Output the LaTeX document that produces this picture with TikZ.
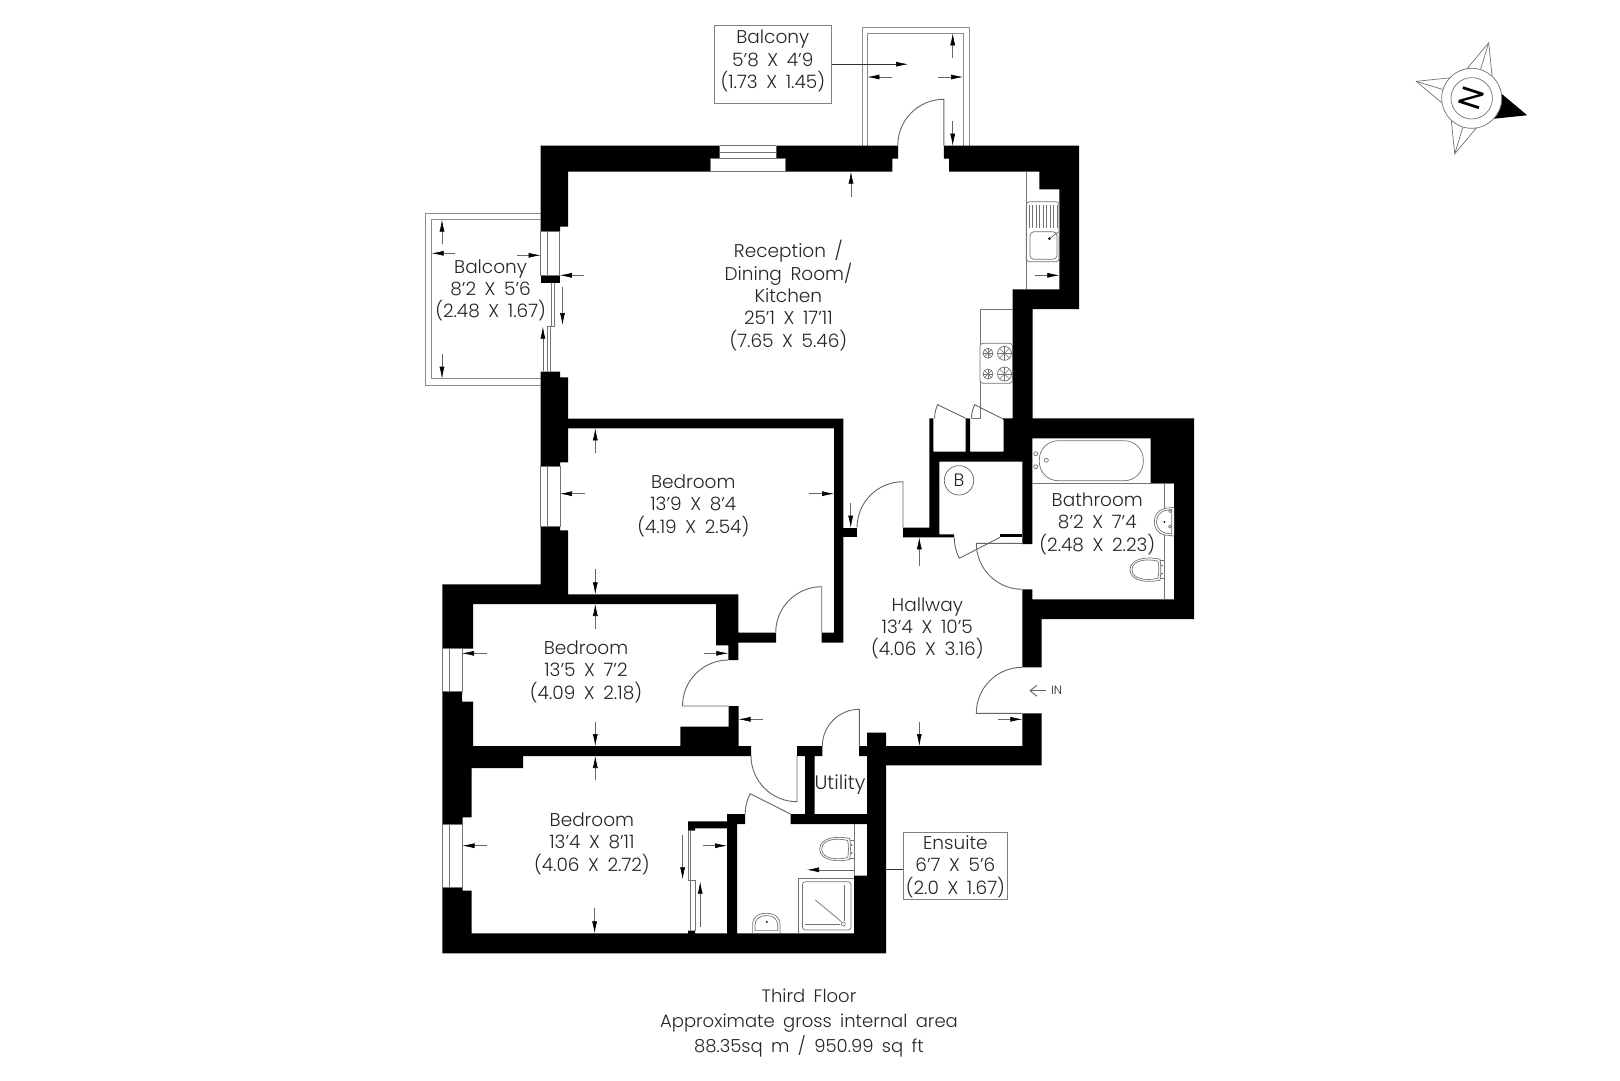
\documentclass[tikz,border=0pt]{standalone}
\usepackage{fontspec}
\setmainfont{Poppins}[UprightFont=* Light,WordSpace=1.7]
\newfontfamily\compassfont{Poppins}
\usetikzlibrary{arrows.meta}
\tikzset{
  wall/.style={fill=black,draw=none},
  fixture/.style={draw=black!55,line width=0.7pt},
  doorline/.style={draw=black!60,line width=0.9pt},
  balconyline/.style={draw=black!45,line width=1pt},
  dimline/.style={draw=black!60,line width=0.6pt,-{Latex[length=12pt,width=5pt,black]}},
  leaderline/.style={draw=black!80,line width=0.7pt},
  roomlabel/.style={align=center,text=black!85,inner sep=0pt,font=\fontsize{18.5}{22.4}\selectfont},
  labelbox/.style={draw=black!50,line width=0.8pt,fill=white},
  toilet/.pic={
    \draw[fixture] (15,-10.5) .. controls (5,-13) and (-15,-12.5) .. (-15,0) .. controls (-15,12.5) and (5,13) .. (15,10.5) .. controls (16,4) and (16,-4) .. (15,-10.5);
    \draw[fixture] (13,-8.5) .. controls (4,-11) and (-13,-10.5) .. (-13,0) .. controls (-13,10.5) and (4,11) .. (13,8.5) .. controls (14,4) and (14,-4) .. (13,-8.5);
    \draw[fixture] (15,-9) -- (19.3,-9);
    \draw[fixture] (15,9) -- (19.3,9);
    \fill[black!60] (17,-4) circle[radius=1];
    \fill[black!60] (17,4) circle[radius=1];
  }
}
\begin{document}
\begin{tikzpicture}[x=1pt,y=-1pt]
\useasboundingbox (0,0) rectangle (1620,1080);
\fill[white] (0,0) rectangle (1620,1080);

% balconies
\draw[balconyline] (862,145.7) -- (862,27) -- (969,27) -- (969,145.7);
\draw[balconyline] (867.4,145.7) -- (867.4,33.3) -- (963,33.3) -- (963,145.7);
\draw[balconyline] (540.6,213.3) -- (425,213.3) -- (425,385.3) -- (540.6,385.3);
\draw[balconyline] (540.6,219.7) -- (431.7,219.7) -- (431.7,378.7) -- (540.6,378.7);

% ensuite leader runs behind the wall
\coordinate (ensuiteleader) at (880,869.8);
\draw[leaderline] (903.4,869.8) -- (ensuiteleader);

% walls
\fill[wall] (540.6,145.7) -- (719.6,145.7) -- (719.6,158.7) -- (710.7,158.7) -- (710.7,171.7) -- (568,171.7) -- (568,226.7) -- (560,226.7) -- (560,231.7) -- (540.6,231.7) -- cycle;
\fill[wall] (776.3,145.7) -- (898.2,145.7) -- (898.2,158.7) -- (892.4,158.7) -- (892.4,171.7) -- (785.3,171.7) -- (785.3,158.7) -- (776.3,158.7) -- cycle;
\fill[wall] (943.8,145.7) -- (1079,145.7) -- (1079,309) -- (1032.6,309) -- (1032.6,418.3) -- (1194,418.3) -- (1194,619) -- (1041.7,619) -- (1041.7,667.3) -- (1022.3,667.3) -- (1022.3,589.3) -- (1032.3,589.3) -- (1032.3,599.3) -- (1174,599.3) -- (1174,483.3) -- (1150.7,483.3) -- (1150.7,438.3) -- (1032.3,438.3) -- (1032.3,544) -- (1022.3,544) -- (1022.3,461.7) -- (939.3,461.7) -- (939.3,534.3) -- (954,534.3) -- (954,537.3) -- (903,537.3) -- (903,527.7) -- (929.3,527.7) -- (929.3,418.3) -- (933.3,418.3) -- (933.3,451.7) -- (965.7,451.7) -- (965.7,418.3) -- (970,418.3) -- (970,451.7) -- (1003.7,451.7) -- (1003.7,420) -- (1001.7,418.3) -- (1012.5,418.3) -- (1012.5,289.3) -- (1059.4,289.3) -- (1059.4,189.3) -- (1039.3,189.3) -- (1039.3,171.7) -- (949,171.7) -- (949,158.7) -- (943.8,158.7) -- cycle;
\fill[wall] (1000,534.3) rectangle (1022.3,537.3);
\fill[wall] (540.6,371.7) -- (560,371.7) -- (560,377.3) -- (568,377.3) -- (568,418.7) -- (843.3,418.7) -- (843.3,642.7) -- (821.7,642.7) -- (821.7,632.7) -- (834,632.7) -- (834,428.3) -- (568,428.3) -- (568,462.3) -- (560,462.3) -- (560,466) -- (540.6,466) -- cycle;
\fill[wall] (843.3,527.7) rectangle (857.3,537.3);
\fill[wall] (540.6,526.7) -- (560,526.7) -- (560,530.3) -- (568,530.3) -- (568,594.3) -- (738.3,594.3) -- (738.3,632.7) -- (776,632.7) -- (776,642.7) -- (738.3,642.7) -- (738.3,660) -- (728.3,660) -- (728.3,645.3) -- (716,645.3) -- (716,604) -- (473,604) -- (473,648.7) -- (442.3,648.7) -- (442.3,584.3) -- (540.6,584.3) -- cycle;
\fill[wall] (442.3,691.7) -- (462,691.7) -- (462,701.7) -- (473,701.7) -- (473,746) -- (680.3,746) -- (680.3,726.7) -- (728.5,726.7) -- (728.5,706) -- (738.5,706) -- (738.5,746) -- (751,746) -- (751,756) -- (523,756) -- (523,768) -- (471.7,768) -- (471.7,817.3) -- (462.5,817.3) -- (462.5,824) -- (442.3,824) -- cycle;
\fill[wall] (442.3,887.3) -- (462.5,887.3) -- (462.5,890.7) -- (471.7,890.7) -- (471.7,933.3) -- (688,933.3) -- (688,930.7) -- (695,930.7) -- (695,933.3) -- (727,933.3) -- (727,828.3) -- (695,828.3) -- (695,830.5) -- (688,830.5) -- (688,821.3) -- (727,821.3) -- (727,814) -- (745,814) -- (745,824) -- (737,824) -- (737,933.3) -- (854,933.3) -- (854,875.7) -- (867,875.7) -- (867,824) -- (790.5,824) -- (790.5,814) -- (805,814) -- (805,756) -- (797,756) -- (797,746) -- (822.3,746) -- (822.3,756) -- (814.6,756) -- (814.6,814) -- (867,814) -- (867,756) -- (859,756) -- (859,746) -- (867,746) -- (867,732.7) -- (886.2,732.7) -- (886.2,746) -- (1022.3,746) -- (1022.3,713.3) -- (1041.7,713.3) -- (1041.7,765.3) -- (886.2,765.3) -- (886.2,953.3) -- (442.3,953.3) -- cycle;
\fill[wall] (540.6,275.3) rectangle (559.8,282.7);

% windows
\draw[fixture] (719.6,145.7) -- (776.3,145.7);
\draw[fixture] (719.6,152) -- (776.3,152);
\draw[fixture] (710.7,158.7) rectangle (785.3,171.7);
\draw[fixture] (540.6,231.7) rectangle (559.8,275.3);
\draw[fixture] (547,231.7) -- (547,275.3);
\draw[fixture] (551,282.7) -- (551,326.7) -- (550.4,326.7) -- (550.4,371.7);
\draw[fixture] (554,282.7) -- (554,326.7) -- (547.3,326.7) -- (547.3,371.7);
\draw[fixture] (540.6,466) rectangle (560,526.7);
\draw[fixture] (547.3,466) -- (547.3,526.7);
\draw[fixture] (442.3,648.7) rectangle (462,691.7);
\draw[fixture] (449,648.7) -- (449,691.7);
\draw[fixture] (442.3,824) rectangle (462.5,887.3);
\draw[fixture] (449,824) -- (449,887.3);
\draw[fixture] (688.5,830.5) -- (688.5,880) -- (690.5,880) -- (690.5,930.7);
\draw[fixture] (690.5,830.5) -- (690.5,880) -- (695,880) -- (695,930.7);

% doors
\draw[doorline] (943.8,145.7) -- (943.8,99.3) arc[start angle=270,end angle=180,radius=46];
\draw[doorline] (903,527.7) -- (903,481.7) arc[start angle=270,end angle=180,radius=46];
\draw[doorline] (821.7,632.7) -- (821.7,586.7) arc[start angle=270,end angle=180,radius=46];
\draw[doorline] (728.5,660) arc[start angle=270,end angle=180,radius=46] -- (728.5,706);
\draw[doorline] (1022.3,543.3) -- (976.3,543.3) arc[start angle=180,end angle=90,radius=46];
\draw[doorline] (1022.3,713.3) -- (976.3,713.3) arc[start angle=180,end angle=270,radius=46];
\draw[doorline] (859.3,746.7) -- (859.3,709.3) arc[start angle=270,end angle=180,radius=37];
\draw[doorline] (797,756) -- (797,801.7) arc[start angle=90,end angle=180,radius=46];
\draw[doorline] (790.5,814) -- (750,793.7) arc[start angle=206.6,end angle=180,radius=45.3];
\draw[doorline] (1000,537.3) -- (959.3,558.3) arc[start angle=152.7,end angle=180,radius=45.8];
\draw[doorline] (965.7,418.3) -- (937.7,404.7) arc[start angle=205.9,end angle=180,radius=31.1];
\draw[doorline] (1001.7,418.3) -- (974.7,404.7) arc[start angle=206.7,end angle=180,radius=30.2];

% kitchen
\draw[fixture] (1026.3,171.7) -- (1026.3,289.3);
\draw[fixture,rounded corners=3pt] (1026.3,201.7) rectangle (1059,261.7);
\draw[fixture,rounded corners=4pt] (1030,231.7) rectangle (1057,259.3);
\foreach \sx in {1029,1032.5,...,1057} {
  \draw[fixture,line width=0.5pt] (\sx,205) -- (\sx,228);
}
\fill (1049.5,238.7) circle[radius=1.5];
\draw[fixture] (1049.5,238.7) -- (1058.5,231.7);
\draw[fixture] (1012.5,309) -- (980,309) -- (980,418.3) -- (972,418.3);
\draw[fixture,fill=white,rounded corners=3pt] (980,343.3) rectangle (1012.5,383.3);
\foreach \bx/\by/\br in {988/353.3/5,1004.5/353.3/7,988/374/5,1004.5/374/7} {
  \draw[fixture] (\bx,\by) circle[radius=\br];
  \foreach \ba in {0,45,90,135} {
    \draw[fixture,line width=0.5pt] (\bx,\by) ++(\ba:\br) -- ++(\ba+180:2*\br);
  }
}

% bathroom
\draw[fixture] (1032.3,483.3) -- (1150.7,483.3) -- (1174,483.3);
\draw[fixture] (1164.3,483.3) -- (1164.3,599.3);
\draw[fixture,rounded corners=19pt] (1039.3,440.7) rectangle (1143.3,480.7);
\draw[fixture] (1035.7,453.7) circle[radius=2];
\draw[fixture] (1035.7,466.7) circle[radius=2];
\draw[fixture] (1046.3,460.3) circle[radius=2];
\draw[fixture,fill=white] (1174,507.3) -- (1165,508.3) .. controls (1158,510) and (1154.3,515) .. (1154.3,521.7) .. controls (1154.3,528) and (1158,534) .. (1165,535) -- (1174,536);
\draw[fixture] (1171.7,509.5) -- (1165,510.5) .. controls (1160,512) and (1156.5,516) .. (1156.5,521.7) .. controls (1156.5,527) and (1160,531.5) .. (1165,533) -- (1171.7,534) -- cycle;
\fill (1164.3,522) circle[radius=1];
\draw[fixture] (1170,511) circle[radius=1.5];
\draw[fixture] (1170,526.7) circle[radius=1.5];
\pic (bathtoilet) at (1145,569.7) {toilet};

% ensuite
\draw[fixture] (854,824) -- (854,875.7);
\draw[fixture] (798.5,933.3) -- (798.5,878.3) -- (854,878.3);
\draw[fixture,rounded corners=3pt] (802.4,881.7) rectangle (851,930);
\draw[fixture] (844,885) -- (844,921);
\draw[fixture] (805,924) -- (840,924);
\draw[fixture] (815.4,900) -- (841.4,921.7);
\draw[fixture] (843.3,924) circle[radius=2];
\pic (ensuitetoilet) at (834.7,849) {toilet};
\draw[fixture] (752.6,933.3) -- (752.6,925) .. controls (752.6,917) and (758,913.3) .. (766.3,913.3) .. controls (775,913.3) and (780,917) .. (780,925) -- (780,933.3);
\draw[fixture] (755,930.6) -- (755,925) .. controls (755,919) and (760,915.5) .. (766.3,915.5) .. controls (773,915.5) and (777.7,919) .. (777.7,925) -- (777.7,930.6) -- cycle;
\fill (766.8,922) circle[radius=1];

% dimension arrows
\draw[dimline] (892.4,77) -- (867.4,77);
\draw[dimline] (938,77) -- (963,77);
\draw[dimline] (952.7,58.3) -- (952.7,33.3);
\draw[dimline] (952.7,121) -- (952.7,145.7);
\draw[dimline] (851,196.7) -- (851,171.7);
\draw[dimline] (1034.8,275.3) -- (1059.4,275.3);
\draw[dimline] (442,244.3) -- (442,219.7);
\draw[dimline] (454.5,253.3) -- (431.7,253.3);
\draw[dimline] (517,255.3) -- (540.6,255.3);
\draw[dimline] (442,354) -- (442,378.7);
\draw[dimline] (584.4,275.3) -- (559.8,275.3);
\draw[dimline] (562.5,286.7) -- (562.5,325);
\draw[dimline] (542.9,370.7) -- (542.9,326.7);
\draw[dimline] (595.3,453.3) -- (595.3,428.3);
\draw[dimline] (585,493.7) -- (560,493.7);
\draw[dimline] (809.3,493.7) -- (834,493.7);
\draw[dimline] (595.3,569.3) -- (595.3,594.3);
\draw[dimline] (595.3,629) -- (595.3,604);
\draw[dimline] (486.7,653.3) -- (462,653.3);
\draw[dimline] (704,653.3) -- (728.3,653.3);
\draw[dimline] (850.7,503.3) -- (850.7,527.7);
\draw[dimline] (919.3,565.7) -- (919.3,537.3);
\draw[dimline] (919.3,721.7) -- (919.3,746);
\draw[dimline] (997.7,719.3) -- (1022.3,719.3);
\draw[dimline] (763,719.3) -- (738.5,719.3);
\draw[dimline] (595.3,721.7) -- (595.3,746);
\draw[dimline] (595.3,780) -- (595.3,756);
\draw[dimline] (486.6,845.7) -- (462.5,845.7);
\draw[dimline] (702.5,845.7) -- (727,845.7);
\draw[dimline] (594.6,908.3) -- (594.6,933.3);
\draw[dimline] (682.6,835) -- (682.6,879.3);
\draw[dimline] (700.2,926.7) -- (700.2,881.7);

% labels with leader lines
\node[labelbox,minimum width=117pt,minimum height=78.3pt,inner sep=0pt] (balconytopbox) at (772.8,64.2) {};
\node[roomlabel] (balconytop) at (772.8,61) {Balcony\\5'8 X 4'9\\(1.73 X 1.45)};
\draw[dimline,draw=black!80] (balconytopbox.east) -- (908,64.2);
\node[labelbox,minimum width=103.6pt,minimum height=66.3pt,inner sep=0pt] (ensuitebox) at (955.2,865.8) {};
\node[roomlabel] (ensuite) at (955.4,866.5) {Ensuite\\6'7 X 5'6\\(2.0 X 1.67)};
\draw[dimline] (854,869.8) -- (807,869.8);

\node[roomlabel] (reception) at (788.4,295.6) {Reception /\\Dining Room/\\Kitchen\\25'1 X 17'11\\(7.65 X 5.46)};
\node[roomlabel] (balconyleft) at (490.6,290.3) {Balcony\\8'2 X 5'6\\(2.48 X 1.67)};
\node[roomlabel] (bedroomone) at (693.3,505.8) {Bedroom\\13'9 X 8'4\\(4.19 X 2.54)};
\node[roomlabel] (bedroomtwo) at (586,671.8) {Bedroom\\13'5 X 7'2\\(4.09 X 2.18)};
\node[roomlabel] (bedroomthree) at (591.9,843.6) {Bedroom\\13'4 X 8'11\\(4.06 X 2.72)};
\node[roomlabel] (hallway) at (927.3,628.3) {Hallway\\13'4 X 10'5\\(4.06 X 3.16)};
\node[roomlabel] (bathroom) at (1097.3,523.8) {Bathroom\\8'2 X 7'4\\(2.48 X 2.23)};
\node[roomlabel,font=\fontsize{19.5}{22}\selectfont] (utility) at (840,785) {Utility};
\node[draw=black!60,line width=0.7pt,circle,minimum size=29.4pt,inner sep=0pt,font=\fontsize{18}{20}\selectfont,text=black!85] (boiler) at (959,480.3) {B};
\node[roomlabel,font=\fontsize{12}{14}\selectfont] (inlabel) at (1056.7,690.7) {IN};
\draw[doorline,-{Straight Barb[length=7pt,width=11pt]}] (1046,690.7) -- (1029.3,690.7);
\node[roomlabel,font=\fontsize{18}{25.2}\selectfont] (footer) at (809,1023) {Third Floor\\Approximate gross internal area\\88.35sq m / 950.99 sq ft};

% compass
\begin{scope}[shift={(1471.7,98.3)},y=1pt]
  \foreach \ca in {73,163,253} {
    \draw[fixture] (\ca+26:30) -- (\ca:58) -- (\ca-26:30);
    \draw[fixture] (\ca:58) -- (\ca:30);
  }
  \fill[black] (343+26:30) -- (343:58) -- (343-26:30) -- cycle;
  \draw[fixture,fill=white] (0,0) circle[radius=30];
  \draw[fixture] (0,0) circle[radius=20.7];
  \node[rotate=-108,inner sep=0pt,font=\compassfont\fontsize{31}{31}\selectfont] (north) at (0,0) {N};
\end{scope}
\end{tikzpicture}
\end{document}
